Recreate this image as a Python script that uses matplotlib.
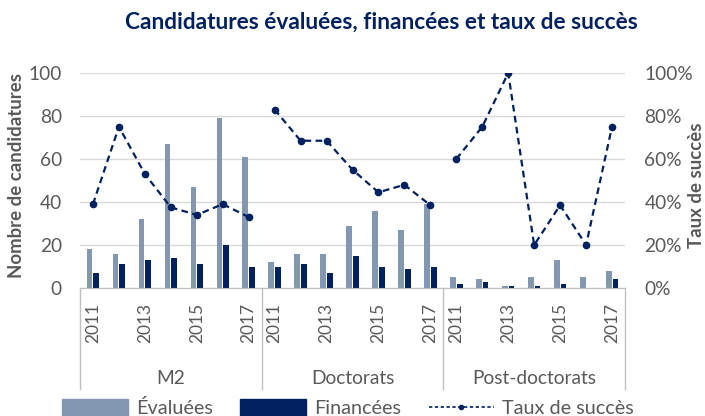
import matplotlib
matplotlib.use("Agg")
import matplotlib.pyplot as plt
from matplotlib.lines import Line2D
from matplotlib.patches import Patch
import numpy as np

groups = ["M2", "Doctorats", "Post-doctorats"]
years = ["2011", "2012", "2013", "2014", "2015", "2016", "2017"]
evaluees_m2 = [18, 16, 32, 67, 47, 79, 61]
evaluees_doc = [12, 16, 16, 29, 36, 27, 39]
evaluees_post = [5, 4, 1, 5, 13, 5, 8]
financees_m2 = [7, 11, 13, 14, 11, 20, 10]
financees_doc = [10, 11, 7, 15, 10, 9, 10]
financees_post = [2, 3, 1, 1, 2, 0, 4]
taux_m2 = [0.39, 0.75, 0.53, 0.375, 0.34, 0.39, 0.33]
taux_doc = [0.83, 0.685, 0.685, 0.55, 0.445, 0.48, 0.385]
taux_post = [0.60, 0.75, 1.00, 0.20, 0.385, 0.20, 0.75]
year_tick_labels = ["2011", "2013", "2015", "2017"]

FONT = ["Lato", "DejaVu Sans"]
plt.rcParams['font.family'] = FONT
GRAY = "#595959"
C_EVAL = "#8497B0"
C_FIN = "#002060"

L, R, T, B = 80, 625, 73, 288
fig = plt.figure(figsize=(7.05, 4.16), dpi=100)
ax = fig.add_axes([L/705, 1-B/416, (R-L)/705, (B-T)/416])
ax2 = ax.twinx()

evals = [evaluees_m2, evaluees_doc, evaluees_post]
fins = [financees_m2, financees_doc, financees_post]
tauxs = [taux_m2, taux_doc, taux_post]
n = len(years)
w = 0.22
for g in range(len(groups)):
    x = np.arange(n) + g * n
    ax.bar(x - w/2 - 0.02, evals[g], width=w, color=C_EVAL, zorder=2)
    ax.bar(x + w/2 + 0.02, fins[g], width=w, color=C_FIN, zorder=2)
    ax2.plot(x, tauxs[g], color=C_FIN, ls=(0, (3, 2)), lw=1.6, marker='o', ms=4.5, zorder=3)

ax.set_xlim(-0.5, 3*n - 0.5)
ax.set_ylim(0, 100)
ax.set_yticks(range(0, 101, 20))
ax2.set_ylim(0, 1)
ax2.set_yticks(np.arange(0, 1.01, 0.2))
ax2.set_yticklabels([f"{int(round(v*100))}%" for v in np.arange(0, 1.01, 0.2)])
ax.grid(axis='y', color="#D9D9D9", lw=1, zorder=0)
ax.set_axisbelow(True)
for a in (ax, ax2):
    for s in a.spines.values():
        s.set_visible(False)
    a.tick_params(length=0, labelsize=13.8, labelcolor=GRAY)
ax.spines['bottom'].set_visible(True)
ax.spines['bottom'].set_color("#BFBFBF")
ax.tick_params(axis='y', pad=13)
ax2.tick_params(axis='y', pad=14)

xt = []
xl = []
for g in range(len(groups)):
    for i, yv in enumerate(years):
        if yv in year_tick_labels:
            xt.append(g*n + i)
            xl.append(yv)
ax.set_xticks(xt)
ax.set_xticklabels(xl, rotation=90)
ax.tick_params(axis='x', pad=11, labelsize=12.5)

trans = ax.get_xaxis_transform()
for b in [-0.5, n - 0.5, 2*n - 0.5, 3*n - 0.5]:
    ax.add_line(Line2D([b, b], [0, -(389-B)/(B-T)], transform=trans, color="#BFBFBF", lw=1, clip_on=False))
for g, name in enumerate(groups):
    ax.text(g*n + (n-1)/2, -(378-B)/(B-T), name, transform=trans, ha='center', va='center',
            fontsize=13.8, color=GRAY)

ax.set_ylabel("Nombre de candidatures", fontsize=13.4, fontweight='bold', color=GRAY)
ax.yaxis.set_label_coords((25-L)/(R-L), (B-175)/(B-T))
ax2.set_ylabel("Taux de succès", fontsize=13.4, fontweight='bold', color=GRAY)
ax2.yaxis.set_label_coords((688-L)/(R-L), (B-185)/(B-T))

fig.text(381/705, 1-22/416, "Candidatures évaluées, financées et taux de succès", ha='center', va='center',
         fontsize=16.3, fontweight='bold', color=C_FIN)

handles = [Patch(color=C_EVAL), Patch(color=C_FIN),
           Line2D([], [], color=C_FIN, ls=(0, (2, 1.5)), lw=1.2, marker='o', ms=3)]
fig.legend(handles, ["Évaluées", "Financées", "Taux de succès"], loc='center',
           bbox_to_anchor=(348/705, 1-408/416), ncol=3, frameon=False, fontsize=14.3,
           handlelength=3.3, handleheight=1.0, columnspacing=1.4, handletextpad=0.4,
           labelcolor=GRAY, borderpad=0)

fig.savefig("out.png", dpi=100)
